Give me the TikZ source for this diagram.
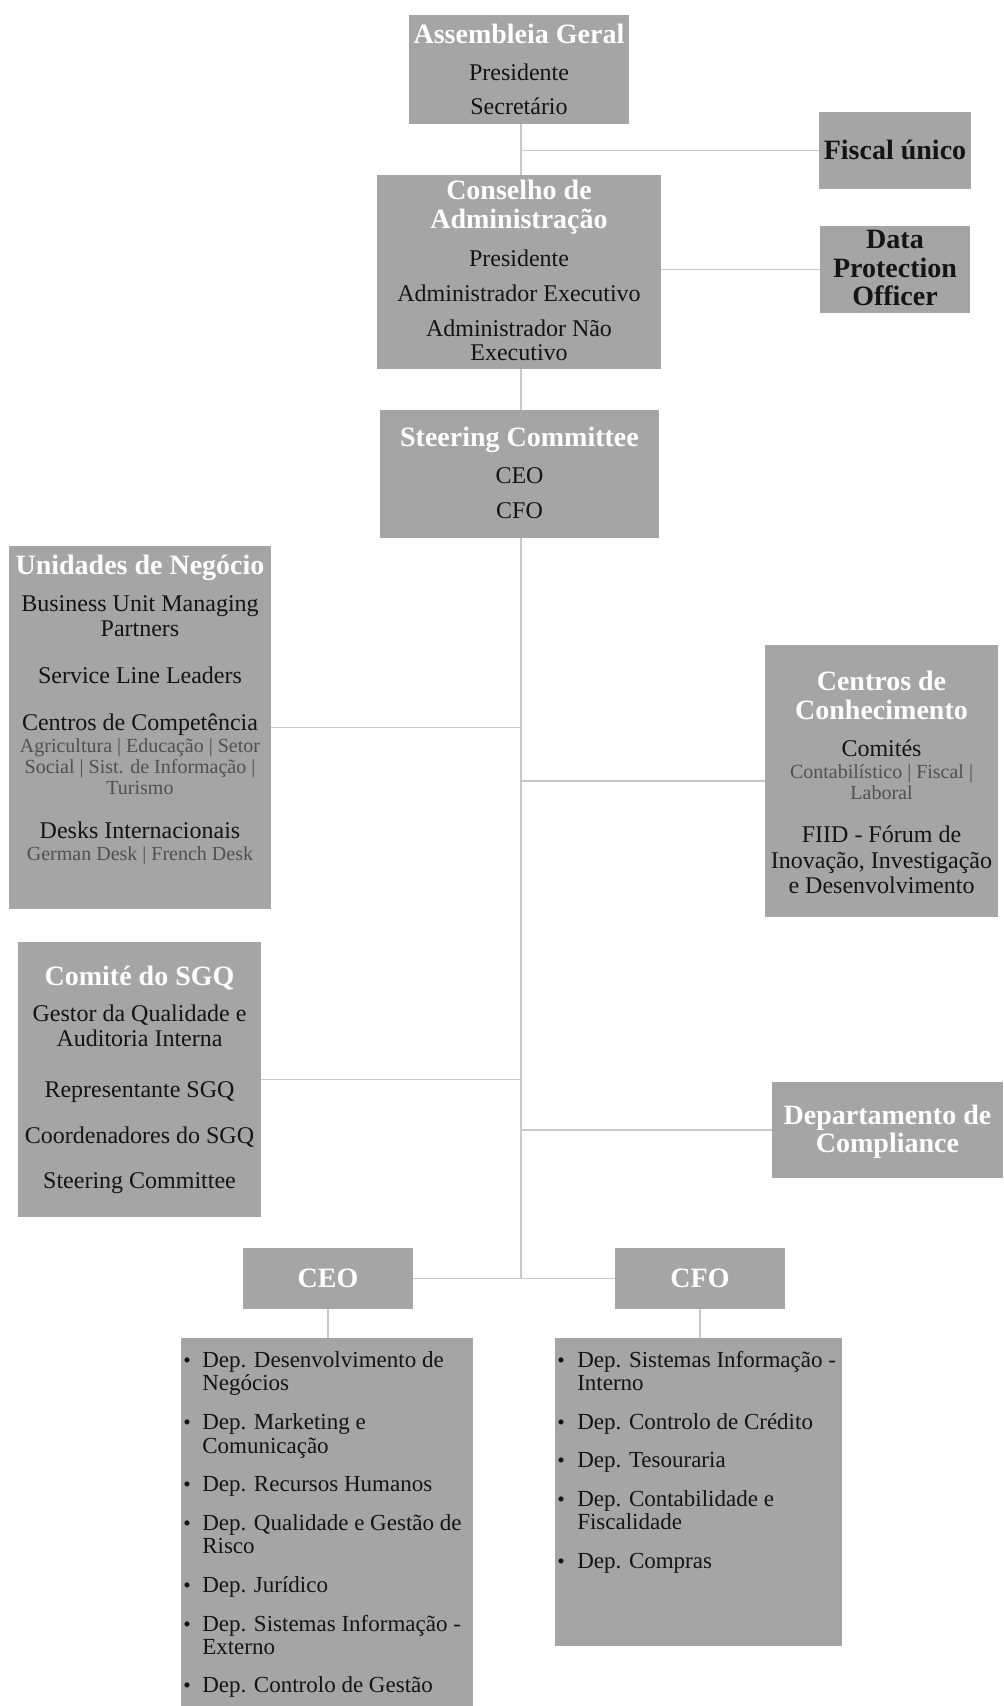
\documentclass[tikz,border=0pt]{standalone}
\usepackage{fontspec}
\setmainfont{Liberation Serif}
\usetikzlibrary{fit}
\definecolor{boxgray}{HTML}{A5A5A5}
\definecolor{linegray}{HTML}{C8C8C8}
\definecolor{subgray}{HTML}{505050}
\definecolor{txt}{HTML}{141414}
\begin{document}
\begin{tikzpicture}[x=0.75pt,y=-0.75pt,
  box/.style={fill=boxgray,draw=none,inner sep=0pt},
  conn/.style={draw=linegray,line width=1.2pt},
  ttl/.style={anchor=base,inner sep=0pt,text=white,font=\fontsize{21}{24}\selectfont\bfseries},
  btl/.style={anchor=base,inner sep=0pt,text=txt,font=\fontsize{21}{24}\selectfont\bfseries},
  bdy/.style={anchor=base,inner sep=0pt,text=txt,font=\fontsize{18}{20}\selectfont},
  sub/.style={anchor=base,inner sep=0pt,text=subgray,font=\fontsize{15}{17}\selectfont},
  lst/.style={anchor=base west,inner sep=0pt,text=txt,font=\fontsize{17.25}{19}\selectfont},
  bul/.style={anchor=base west,inner sep=0pt,text=txt,font=\fontsize{16}{17}\selectfont}
]
\path[fill=white,use as bounding box] (0,0) rectangle (1003,1706);
\coordinate (trunk) at (521,0);

% boxes
\node[box,fit={(409,15) (629,124)}] (ag) {};
\node[box,fit={(819,112) (971,189)}] (fu) {};
\node[box,fit={(377,175) (661,369)}] (ca) {};
\node[box,fit={(820,226) (970,313)}] (dpo) {};
\node[box,fit={(380,410) (659,538)}] (sc) {};
\node[box,fit={(9,546) (271,909)}] (un) {};
\node[box,fit={(765,645) (998,917)}] (cc) {};
\node[box,fit={(18,942) (261,1217)}] (sgq) {};
\node[box,fit={(772,1082) (1003,1178)}] (dc) {};
\node[box,fit={(243,1248) (413,1309)}] (ceo) {};
\node[box,fit={(615,1248) (785,1309)}] (cfo) {};
\node[box,fit={(181,1338) (473,1706)}] (ceol) {};
\node[box,fit={(555,1338) (842,1646)}] (cfol) {};

% connectors
\draw[conn] (ag.south -| trunk) -- (ca.north -| trunk);
\draw[conn] (fu.west -| trunk) -- (fu.west);
\draw[conn] (dpo.west -| ca.east) -- (dpo.west);
\draw[conn] (ca.south -| trunk) -- (sc.north -| trunk);
\draw[conn] (sc.south -| trunk) -- (ceo.east -| trunk);
\draw[conn] (un.east) -- (un.east -| trunk);
\draw[conn] (cc.west -| trunk) -- (cc.west);
\draw[conn] (sgq.east) -- (sgq.east -| trunk);
\draw[conn] (dc.west -| trunk) -- (dc.west);
\draw[conn] (ceo.east) -- (cfo.west);
\draw[conn] (ceo.south) -- (ceol.north -| ceo.south);
\draw[conn] (cfo.south) -- (cfol.north -| cfo.south);

% Assembleia Geral
\node[ttl] (ag1) at (519,43) {Assembleia Geral};
\node[bdy] (ag2) at (519,80) {Presidente};
\node[bdy] (ag3) at (519,114) {Secretário};

% Fiscal unico
\node[btl] (fu1) at (895,159) {Fiscal único};

% Conselho
\node[ttl] (ca1) at (519,199) {Conselho de};
\node[ttl] (ca2) at (519,228) {Administração};
\node[bdy] (ca3) at (519,266) {Presidente};
\node[bdy] (ca4) at (519,301) {Administrador Executivo};
\node[bdy] (ca5) at (519,336) {Administrador Não};
\node[bdy] (ca6) at (519,360) {Executivo};

% DPO
\node[btl] (dpo1) at (895,248) {Data};
\node[btl] (dpo2) at (895,277) {Protection};
\node[btl] (dpo3) at (895,305) {Officer};

% Steering
\node[ttl] (sc1) at (519.5,446) {Steering Committee};
\node[bdy] (sc2) at (519.5,483) {CEO};
\node[bdy] (sc3) at (519.5,518) {CFO};

% Unidades de Negocio
\node[ttl] (un1) at (140,574) {Unidades de Negócio};
\node[bdy] (un2) at (140,611) {Business Unit Managing};
\node[bdy] (un3) at (140,636) {Partners};
\node[bdy] (un4) at (140,683) {Service Line Leaders};
\node[bdy] (un5) at (140,730) {Centros de Competência};
\node[sub] (un6) at (140,752) {Agricultura | Educação | Setor};
\node[sub] (un7) at (140,773) {Social | Sist. de Informação |};
\node[sub] (un8) at (140,794) {Turismo};
\node[bdy] (un9) at (140,838) {Desks Internacionais};
\node[sub] (un10) at (140,860) {German Desk | French Desk};

% Centros de Conhecimento
\node[ttl] (cc1) at (881.5,690) {Centros de};
\node[ttl] (cc2) at (881.5,719) {Conhecimento};
\node[bdy] (cc3) at (881.5,756) {Comités};
\node[sub] (cc4) at (881.5,778) {Contabilístico | Fiscal |};
\node[sub] (cc5) at (881.5,799) {Laboral};
\node[bdy] (cc6) at (881.5,842) {FIID - Fórum de};
\node[bdy] (cc7) at (881.5,868) {Inovação, Investigação};
\node[bdy] (cc8) at (881.5,893) {e Desenvolvimento};

% Comite do SGQ
\node[ttl] (sgq1) at (139.5,985) {Comité do SGQ};
\node[bdy] (sgq2) at (139.5,1021) {Gestor da Qualidade e};
\node[bdy] (sgq3) at (139.5,1046) {Auditoria Interna};
\node[bdy] (sgq4) at (139.5,1097) {Representante SGQ};
\node[bdy] (sgq5) at (139.5,1143) {Coordenadores do SGQ};
\node[bdy] (sgq6) at (139.5,1188) {Steering Committee};

% Compliance
\node[ttl] (dc1) at (887.5,1124) {Departamento de};
\node[ttl] (dc2) at (887.5,1152) {Compliance};

% CEO / CFO
\node[ttl] (ceo1) at (328,1287) {CEO};
\node[ttl] (cfo1) at (700,1287) {CFO};

% CEO list
\node[bul] (cb1) at (183,1367) {•};
\node[lst] (cl1) at (202,1367) {Dep. Desenvolvimento de};
\node[lst] (cl1b) at (202,1390) {Negócios};
\node[bul] (cb2) at (183,1429) {•};
\node[lst] (cl2) at (202,1429) {Dep. Marketing e};
\node[lst] (cl2b) at (202,1453) {Comunicação};
\node[bul] (cb3) at (183,1491) {•};
\node[lst] (cl3) at (202,1491) {Dep. Recursos Humanos};
\node[bul] (cb4) at (183,1530) {•};
\node[lst] (cl4) at (202,1530) {Dep. Qualidade e Gestão de};
\node[lst] (cl4b) at (202,1553) {Risco};
\node[bul] (cb5) at (183,1592) {•};
\node[lst] (cl5) at (202,1592) {Dep. Jurídico};
\node[bul] (cb6) at (183,1631) {•};
\node[lst] (cl6) at (202,1631) {Dep. Sistemas Informação -};
\node[lst] (cl6b) at (202,1654) {Externo};
\node[bul] (cb7) at (183,1692) {•};
\node[lst] (cl7) at (202,1692) {Dep. Controlo de Gestão};

% CFO list
\node[bul] (fb1) at (557,1367) {•};
\node[lst] (fl1) at (577,1367) {Dep. Sistemas Informação -};
\node[lst] (fl1b) at (577,1390) {Interno};
\node[bul] (fb2) at (557,1429) {•};
\node[lst] (fl2) at (577,1429) {Dep. Controlo de Crédito};
\node[bul] (fb3) at (557,1467) {•};
\node[lst] (fl3) at (577,1467) {Dep. Tesouraria};
\node[bul] (fb4) at (557,1506) {•};
\node[lst] (fl4) at (577,1506) {Dep. Contabilidade e};
\node[lst] (fl4b) at (577,1529) {Fiscalidade};
\node[bul] (fb5) at (557,1568) {•};
\node[lst] (fl5) at (577,1568) {Dep. Compras};
\end{tikzpicture}
\end{document}
